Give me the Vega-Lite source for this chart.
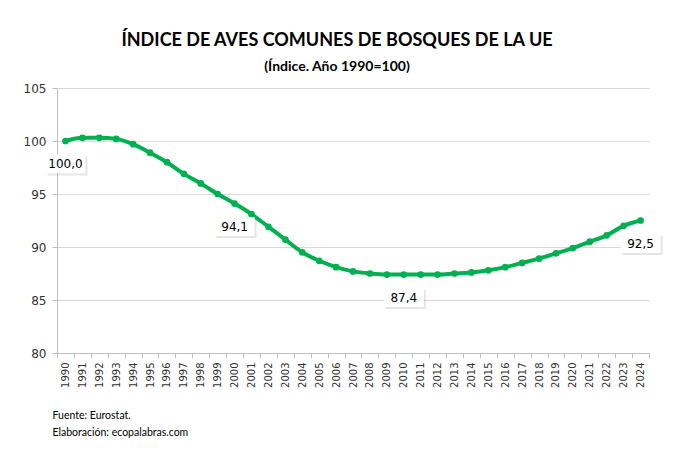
{
  "$schema": "https://vega.github.io/schema/vega-lite/v6.json",
  "width": 592,
  "height": 265,
  "autosize": {"type": "none"},
  "padding": {"left": 57, "top": 88, "right": 24, "bottom": 102},
  "background": "white",
  "config": {
    "view": {"stroke": null},
    "locale": {"number": {"decimal": ",", "thousands": ".", "grouping": [3], "currency": ["", " €"]}}
  },
  "title": {
    "text": "ÍNDICE DE AVES COMUNES DE BOSQUES DE LA UE",
    "subtitle": "(Índice. Año 1990=100)",
    "font": "Lato",
    "fontSize": 18,
    "fontWeight": "bold",
    "color": "black",
    "subtitleFont": "Lato",
    "subtitleFontSize": 14,
    "subtitleFontWeight": "bold",
    "subtitleColor": "black",
    "anchor": "middle",
    "dx": -16,
    "offset": 8,
    "subtitlePadding": 10
  },
  "data": {
    "values": [
      {"year": "1990", "value": 100.0},
      {"year": "1991", "value": 100.3},
      {"year": "1992", "value": 100.3},
      {"year": "1993", "value": 100.2},
      {"year": "1994", "value": 99.7},
      {"year": "1995", "value": 98.9},
      {"year": "1996", "value": 98.0},
      {"year": "1997", "value": 96.9},
      {"year": "1998", "value": 96.0},
      {"year": "1999", "value": 95.0},
      {"year": "2000", "value": 94.1},
      {"year": "2001", "value": 93.1},
      {"year": "2002", "value": 91.9},
      {"year": "2003", "value": 90.7},
      {"year": "2004", "value": 89.5},
      {"year": "2005", "value": 88.7},
      {"year": "2006", "value": 88.1},
      {"year": "2007", "value": 87.7},
      {"year": "2008", "value": 87.5},
      {"year": "2009", "value": 87.4},
      {"year": "2010", "value": 87.4},
      {"year": "2011", "value": 87.4},
      {"year": "2012", "value": 87.4},
      {"year": "2013", "value": 87.5},
      {"year": "2014", "value": 87.6},
      {"year": "2015", "value": 87.8},
      {"year": "2016", "value": 88.1},
      {"year": "2017", "value": 88.5},
      {"year": "2018", "value": 88.9},
      {"year": "2019", "value": 89.4},
      {"year": "2020", "value": 89.9},
      {"year": "2021", "value": 90.5},
      {"year": "2022", "value": 91.1},
      {"year": "2023", "value": 92.0},
      {"year": "2024", "value": 92.5}
    ]
  },
  "encoding": {
    "x": {
      "field": "year",
      "type": "ordinal",
      "scale": {"type": "band", "paddingInner": 0, "paddingOuter": 0},
      "axis": {
        "labelAngle": -90,
        "labelFont": "DejaVu Sans",
        "labelFontSize": 10,
        "labelColor": "#333333",
        "labelPadding": 4,
        "domainColor": "#bfbfbf",
        "tickColor": "#bfbfbf",
        "tickSize": 5,
        "tickBand": "extent",
        "grid": false,
        "title": ["Fuente: Eurostat.", "Elaboración: ecopalabras.com"],
        "titleFont": "Lato",
        "titleFontSize": 10.5,
        "titleFontWeight": "normal",
        "titleColor": "black",
        "titleAnchor": "start",
        "titleAlign": "left",
        "titleAngle": 0,
        "titleBaseline": "alphabetic",
        "titleLineHeight": 17,
        "titleX": -5,
        "titleY": 65
      }
    },
    "y": {
      "field": "value",
      "type": "quantitative",
      "scale": {"domain": [80, 105], "nice": false, "zero": false},
      "axis": {
        "values": [80, 85, 90, 95, 100, 105],
        "gridColor": "#d9d9d9",
        "domainColor": "#bfbfbf",
        "tickColor": "#bfbfbf",
        "tickSize": 5,
        "labelFont": "DejaVu Sans",
        "labelFontSize": 12,
        "labelColor": "#333333",
        "labelPadding": 6,
        "title": null
      }
    }
  },
  "layer": [
    {"mark": {"type": "line", "color": "#00B050", "strokeWidth": 4, "interpolate": "monotone"}},
    {"mark": {"type": "point", "filled": true, "color": "#00B050", "size": 45, "opacity": 1}},
    {
      "transform": [{"filter": {"field": "year", "oneOf": ["1990", "2000", "2010", "2024"]}}],
      "mark": {"type": "point", "shape": "M-1,-0.475H1V0.475H-1Z", "size": 1600, "filled": true, "color": "#000000", "opacity": 0.1, "xOffset": 2, "yOffset": 25}
    },
    {
      "transform": [{"filter": {"field": "year", "oneOf": ["1990", "2000", "2010", "2024"]}}],
      "mark": {"type": "point", "shape": "M-1,-0.475H1V0.475H-1Z", "size": 1600, "filled": true, "color": "white", "opacity": 1, "yOffset": 23}
    },
    {
      "transform": [{"filter": {"field": "year", "oneOf": ["1990", "2000", "2010", "2024"]}}],
      "mark": {"type": "text", "font": "DejaVu Sans", "fontSize": 12, "color": "black", "baseline": "middle", "align": "center", "yOffset": 23},
      "encoding": {"text": {"field": "value", "type": "quantitative", "format": ".1f"}}
    }
  ]
}
